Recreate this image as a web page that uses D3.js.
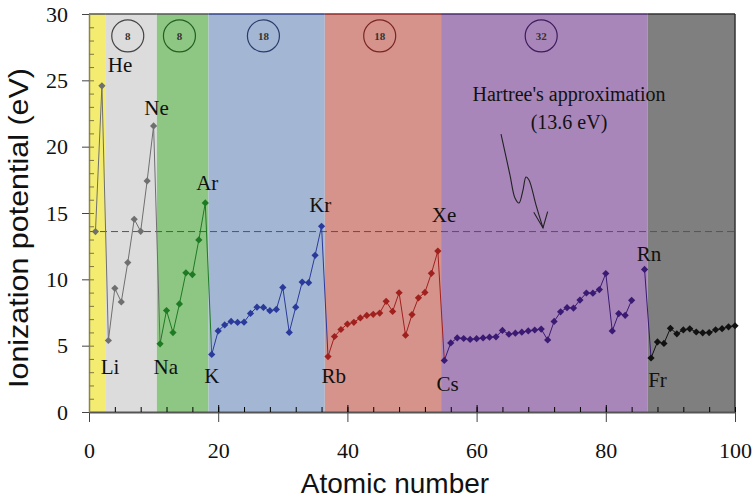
<!DOCTYPE html>
<html>
<head>
<meta charset="utf-8">
<script src="https://cdn.jsdelivr.net/npm/d3@7"></script>
<style>
  body { margin: 0; background: #fff; }
  .serif { font-family: "Liberation Serif", "DejaVu Serif", serif; }
  .sans { font-family: "Liberation Sans", Arial, sans-serif; }
</style>
</head>
<body>
<div id="chart"></div>
<script>
// first ionization potential (eV) for Z = 1..100, At (85) not plotted
var ionization = [
  13.60, 24.59, 5.39, 9.32, 8.30, 11.26, 14.53, 13.62, 17.42, 21.56,
  5.14, 7.65, 5.99, 8.15, 10.49, 10.36, 12.97, 15.76, 4.34, 6.11,
  6.56, 6.83, 6.75, 6.77, 7.43, 7.90, 7.88, 7.64, 7.73, 9.39,
  6.00, 7.90, 9.79, 9.75, 11.81, 14.00, 4.18, 5.69, 6.22, 6.63,
  6.76, 7.09, 7.28, 7.36, 7.46, 8.34, 7.58, 8.99, 5.79, 7.34,
  8.61, 9.01, 10.45, 12.13, 3.89, 5.21, 5.58, 5.54, 5.47, 5.53,
  5.58, 5.64, 5.67, 6.15, 5.86, 5.94, 6.02, 6.11, 6.18, 6.25,
  5.43, 6.83, 7.55, 7.86, 7.83, 8.44, 8.97, 8.96, 9.23, 10.44,
  6.11, 7.42, 7.29, 8.42, null, 10.75, 4.07, 5.28, 5.17, 6.31,
  5.89, 6.19, 6.27, 6.03, 5.97, 5.99, 6.20, 6.28, 6.42, 6.50
];

// background blocks (atomic number edges)
var bandEdges = [0, 2.5, 10.5, 18.5, 36.5, 54.5, 86.5, 100];
var bandColors = ['#f3ec70', '#dcdcdc', '#8dc783', '#a3b7d4', '#d5938b', '#a886b9', '#7f7f7f'];
var bandTopColors = ['#555', '#555', '#555', '#33428a', '#8a2c2c', '#4c2c6c', '#333'];

// series colouring by period
var periodStarts = [1, 11, 19, 37, 55, 87];
var periodColors = ['#6f6f6f', '#1e7a23', '#2a3a9a', '#a0201e', '#3a1a72', '#111111'];

// shell capacities in circles
var shellCounts = ['8', '8', '18', '18', '32'];
var shellBands = [1, 2, 3, 4, 5];
var shellColors = ['#444', '#235f23', '#2c3b6c', '#7a2424', '#3c1c5c'];

// element labels: name, label x, label baseline y (data units)
var elemNames = ['He', 'Ne', 'Ar', 'Kr', 'Xe', 'Rn', 'Li', 'Na', 'K', 'Rb', 'Cs', 'Fr'];
var elemLabelX = [4.8, 10.45, 18.3, 35.8, 54.95, 86.7, 3.25, 11.9, 19.0, 37.9, 55.5, 88.0];
var elemLabelY = [25.6, 22.4, 16.7, 15.1, 14.3, 11.4, 2.9, 2.9, 2.2, 2.2, 1.6, 1.9];

var hartree = 13.6;
var xTicks = [0, 20, 40, 60, 80, 100];
var yTicks = [0, 5, 10, 15, 20, 25, 30];

var w = 755, h = 500;
var svg = d3.select('#chart').append('svg')
  .attr('width', w)
  .attr('height', h);

var x = d3.scaleLinear().domain([0, 100]).range([89, 735]);
var y = d3.scaleLinear().domain([0, 30]).range([412, 14]);

/* Bands */

svg.selectAll('rect.band')
  .data(bandColors)
  .enter()
  .append('rect')
  .attr('class', 'band')
  .attr('x', function(d, i) { return x(bandEdges[i]); })
  .attr('y', y(30))
  .attr('width', function(d, i) { return x(bandEdges[i + 1]) - x(bandEdges[i]); })
  .attr('height', y(0) - y(30))
  .style('fill', function(d) { return d; });

svg.selectAll('line.bandtop')
  .data(bandTopColors)
  .enter()
  .append('line')
  .attr('x1', function(d, i) { return x(bandEdges[i]); })
  .attr('x2', function(d, i) { return x(bandEdges[i + 1]); })
  .attr('y1', y(30))
  .attr('y2', y(30))
  .style('stroke', function(d) { return d; })
  .style('stroke-width', 1.5);

/* Right border */

svg.append('line')
  .attr('x1', x(100)).attr('x2', x(100))
  .attr('y1', y(30)).attr('y2', y(0))
  .style('stroke', '#333')
  .style('stroke-width', 1.5);

/* Shell circles */

var shells = svg.selectAll('g.shell')
  .data(shellCounts)
  .enter()
  .append('g')
  .attr('transform', function(d, i) {
    var b = shellBands[i];
    var cx = (bandEdges[b] + bandEdges[b + 1]) / 2 - 0.5;
    return 'translate(' + x(cx) + ',' + y(28.35) + ')';
  });

shells.append('circle')
  .attr('r', 16)
  .style('fill', 'none')
  .style('stroke', function(d, i) { return shellColors[i]; })
  .style('stroke-width', 1.2);

shells.append('text')
  .attr('class', 'serif')
  .attr('text-anchor', 'middle')
  .attr('dy', '0.35em')
  .attr('font-size', '11px')
  .attr('font-weight', 'bold')
  .attr('fill', '#333')
  .text(function(d) { return d; });

/* Hartree line */

svg.append('line')
  .attr('x1', x(0)).attr('x2', x(100))
  .attr('y1', y(hartree)).attr('y2', y(hartree))
  .style('stroke', '#555')
  .style('stroke-width', 1)
  .style('stroke-dasharray', '7,4');

svg.append('text')
  .attr('class', 'serif')
  .attr('x', 569)
  .attr('y', 101)
  .attr('text-anchor', 'middle')
  .attr('font-size', '20px')
  .attr('fill', '#111')
  .text("Hartree's approximation");

svg.append('text')
  .attr('class', 'serif')
  .attr('x', 569)
  .attr('y', 129)
  .attr('text-anchor', 'middle')
  .attr('font-size', '20px')
  .attr('fill', '#111')
  .text('(' + hartree + ' eV)');

// squiggly arrow
var arrowPts = [[63.78, 20.95], [65.17, 17.86], [65.94, 16.13], [66.56, 15.75],
  [67.18, 16.73], [67.65, 17.71], [68.11, 17.49], [69.2, 15.6], [70.28, 13.87]];
var arrowLine = d3.line()
  .x(function(d) { return x(d[0]); })
  .y(function(d) { return y(d[1]); })
  .curve(d3.curveCatmullRom);

svg.append('path')
  .attr('d', arrowLine(arrowPts))
  .style('fill', 'none')
  .style('stroke', '#222')
  .style('stroke-width', 1.1);

svg.append('path')
  .attr('d', d3.line()
    .x(function(d) { return x(d[0]); })
    .y(function(d) { return y(d[1]); })([[68.85, 15.05], [70.28, 13.87], [71.0, 15.1]]))
  .style('fill', 'none')
  .style('stroke', '#222')
  .style('stroke-width', 1.1);

/* Ionization series */

var points = ionization.map(function(v, i) { return { z: i + 1, v: v }; });

function periodOf(z) {
  var p = 0;
  periodStarts.forEach(function(s, i) { if (z >= s) { p = i; } });
  return p;
}

var line = d3.line()
  .defined(function(d) { return d.v !== null; })
  .x(function(d) { return x(d.z); })
  .y(function(d) { return y(d.v); });

periodStarts.forEach(function(s, i) {
  var end = i + 1 < periodStarts.length ? periodStarts[i + 1] : 100;
  var seg = points.filter(function(d) { return d.z >= s && d.z <= end; });
  svg.append('path')
    .attr('d', line(seg))
    .style('fill', 'none')
    .style('stroke', periodColors[i])
    .style('stroke-width', 1);
});

svg.selectAll('path.marker')
  .data(points.filter(function(d) { return d.v !== null; }))
  .enter()
  .append('path')
  .attr('class', 'marker')
  .attr('d', d3.symbol().type(d3.symbolSquare).size(26))
  .attr('transform', function(d) {
    return 'translate(' + x(d.z) + ',' + y(d.v) + ') rotate(45)';
  })
  .style('fill', function(d) { return periodColors[periodOf(d.z)]; });

/* Element labels */

svg.selectAll('text.elem')
  .data(elemNames)
  .enter()
  .append('text')
  .attr('class', 'serif')
  .attr('x', function(d, i) { return x(elemLabelX[i]); })
  .attr('y', function(d, i) { return y(elemLabelY[i]); })
  .attr('text-anchor', 'middle')
  .attr('font-size', '21px')
  .attr('fill', '#111')
  .text(function(d) { return d; });

/* Axes */

var xAxis = svg.append('g')
  .attr('transform', 'translate(0,' + y(0) + ')')
  .call(d3.axisBottom(x).tickValues(xTicks).tickSizeInner(10).tickSizeOuter(0).tickPadding(20));

svg.append('g')
  .attr('transform', 'translate(0,' + y(0) + ')')
  .call(d3.axisTop(x).tickValues(d3.range(0, 101, 4)).tickSize(5).tickFormat(''))
  .call(function(g) { g.select('.domain').remove(); });

svg.append('g')
  .attr('transform', 'translate(0,' + y(0) + ')')
  .call(d3.axisTop(x).tickValues(xTicks.slice(1, 5)).tickSize(7).tickFormat(''))
  .call(function(g) { g.select('.domain').remove(); });

var yAxis = svg.append('g')
  .attr('transform', 'translate(' + x(0) + ',0)')
  .call(d3.axisLeft(y).tickValues(yTicks).tickSizeInner(7).tickSizeOuter(0).tickPadding(14));

svg.append('g')
  .attr('transform', 'translate(' + x(0) + ',0)')
  .call(d3.axisRight(y).tickValues(d3.range(1, 30, 1)).tickSize(5).tickFormat(''))
  .call(function(g) {
    g.select('.domain').remove();
    g.selectAll('line').style('stroke', '#7d7640');
  });

[xAxis, yAxis].forEach(function(g) {
  g.selectAll('text')
    .attr('class', 'serif')
    .attr('font-size', '22px')
    .attr('fill', '#111');
  g.select('.domain').style('stroke', '#555').style('stroke-width', 2);
  g.selectAll('line').style('stroke', '#444');
});
yAxis.select('.domain').style('stroke', '#8a8450').style('stroke-width', 1.5);

/* Axis titles */

svg.append('text')
  .attr('class', 'sans')
  .attr('x', 395)
  .attr('y', 493)
  .attr('text-anchor', 'middle')
  .attr('font-size', '28px')
  .attr('fill', '#111')
  .text('Atomic number');

svg.append('text')
  .attr('class', 'sans')
  .attr('transform', 'translate(28,228) rotate(-90)')
  .attr('text-anchor', 'middle')
  .attr('font-size', '28px')
  .attr('textLength', 320)
  .attr('lengthAdjust', 'spacingAndGlyphs')
  .attr('fill', '#111')
  .text('Ionization potential (eV)');
</script>
</body>
</html>
